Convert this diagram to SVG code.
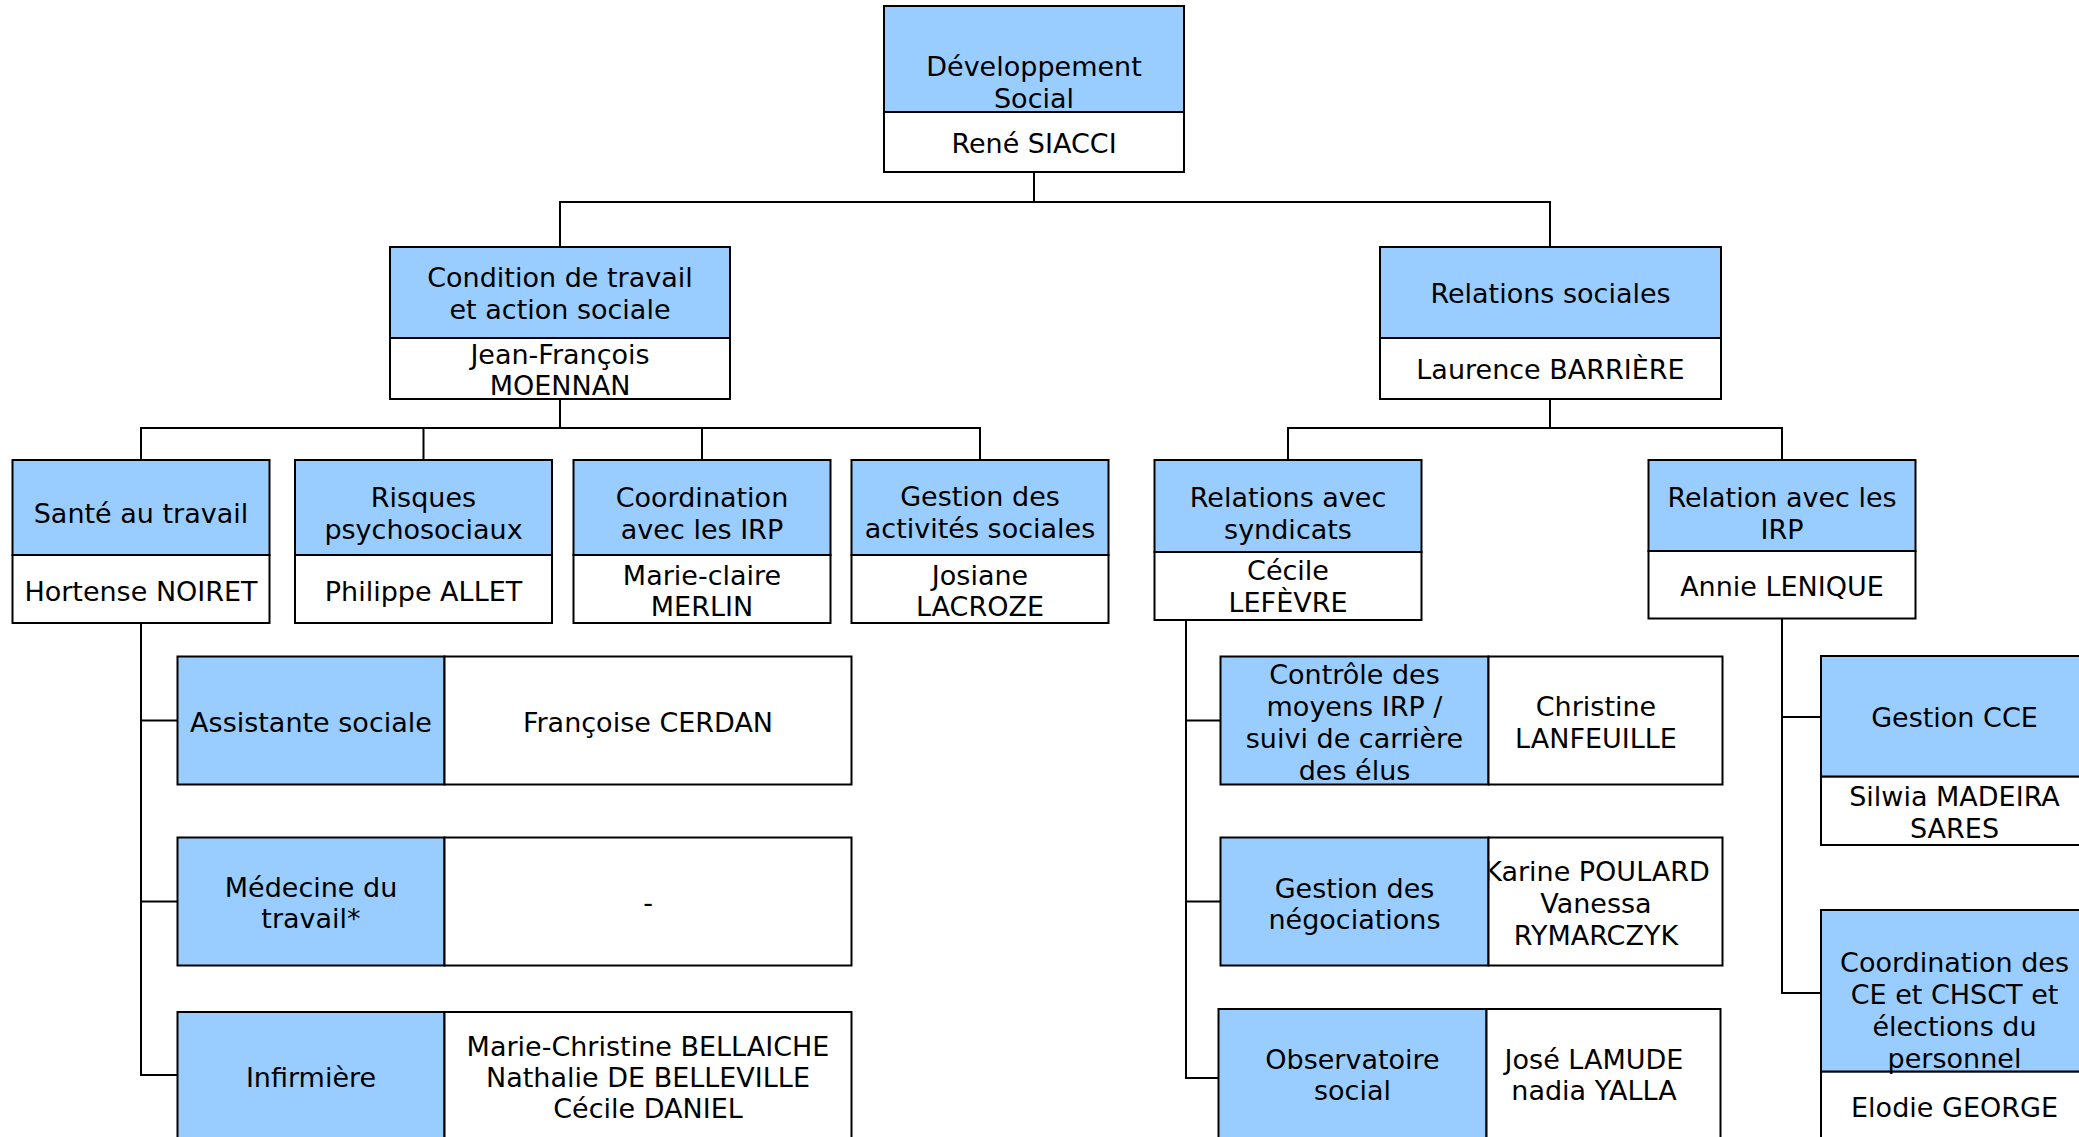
<svg xmlns="http://www.w3.org/2000/svg" width="2079" height="1137" viewBox="0 0 2079 1137">
<style>
.b{fill:#99CCFF;stroke:#000;stroke-width:2}
.w{fill:#fff;stroke:#000;stroke-width:2}
.t{font-family:"DejaVu Sans",Verdana,sans-serif;font-size:27px;text-anchor:middle;fill:#000}
#connectors path{fill:none;stroke:#000;stroke-width:2}
</style>
<defs>
<clipPath id="clipKarine"><rect x="1489.5" y="837.5" width="232" height="128"/></clipPath>
</defs>
<rect width="2079" height="1137" fill="#fff"/>
<g id="connectors">
<path d="M1034,172V202M560,247V202H1550V247"/>
<path d="M560,399V428M141,460V428H980V460M423.5,428V460M702,428V460"/>
<path d="M1550,399V428M1288,460V428H1782V460"/>
<path d="M141,623V1075H177.5M141,720.5H177.5M141,901.5H177.5"/>
<path d="M1186,620V1078H1218.5M1186,720.5H1220.5M1186,901.5H1220.5"/>
<path d="M1782,618V993H1821M1782,717H1821"/>
</g>
<g id="n-root">
<rect class="b" x="884" y="6" width="300" height="106"/>
<rect class="w" x="884" y="112" width="300" height="60"/>
<text class="t" x="1034" y="76">Développement</text>
<text class="t" x="1034" y="107.5">Social</text>
<text class="t" x="1034" y="153">René SIACCI</text>
</g>
<g id="n-condition">
<rect class="b" x="390" y="247" width="340" height="91"/>
<rect class="w" x="390" y="338" width="340" height="61"/>
<text class="t" x="560" y="287">Condition de travail</text>
<text class="t" x="560" y="319">et action sociale</text>
<text class="t" x="560" y="364">Jean-François</text>
<text class="t" x="560" y="395">MOENNAN</text>
</g>
<g id="n-relsoc">
<rect class="b" x="1380" y="247" width="341" height="91"/>
<rect class="w" x="1380" y="338" width="341" height="61"/>
<text class="t" x="1550.5" y="303">Relations sociales</text>
<text class="t" x="1550.5" y="379">Laurence BARRIÈRE</text>
</g>
<g id="n-sante">
<rect class="b" x="12.5" y="460" width="257" height="95"/>
<rect class="w" x="12.5" y="555" width="257" height="68"/>
<text class="t" x="141" y="523.3">Santé au travail</text>
<text class="t" x="141" y="600.5">Hortense NOIRET</text>
</g>
<g id="n-risques">
<rect class="b" x="295" y="460" width="257" height="95"/>
<rect class="w" x="295" y="555" width="257" height="68"/>
<text class="t" x="423.5" y="507">Risques</text>
<text class="t" x="423.5" y="538.5">psychosociaux</text>
<text class="t" x="423.5" y="600.5">Philippe ALLET</text>
</g>
<g id="n-coordirp">
<rect class="b" x="573.5" y="460" width="257" height="95"/>
<rect class="w" x="573.5" y="555" width="257" height="68"/>
<text class="t" x="702" y="507">Coordination</text>
<text class="t" x="702" y="538.5">avec les IRP</text>
<text class="t" x="702" y="585">Marie-claire</text>
<text class="t" x="702" y="616">MERLIN</text>
</g>
<g id="n-gestionas">
<rect class="b" x="851.5" y="460" width="257" height="95"/>
<rect class="w" x="851.5" y="555" width="257" height="68"/>
<text class="t" x="980" y="506">Gestion des</text>
<text class="t" x="980" y="538">activités sociales</text>
<text class="t" x="980" y="585">Josiane</text>
<text class="t" x="980" y="616">LACROZE</text>
</g>
<g id="n-syndicats">
<rect class="b" x="1154.5" y="460" width="267" height="92"/>
<rect class="w" x="1154.5" y="552" width="267" height="68"/>
<text class="t" x="1288" y="507">Relations avec</text>
<text class="t" x="1288" y="538.5">syndicats</text>
<text class="t" x="1288" y="580">Cécile</text>
<text class="t" x="1288" y="612">LEFÈVRE</text>
</g>
<g id="n-irp">
<rect class="b" x="1648.5" y="460" width="267" height="91"/>
<rect class="w" x="1648.5" y="551" width="267" height="67.5"/>
<text class="t" x="1782" y="507">Relation avec les</text>
<text class="t" x="1782" y="538.5">IRP</text>
<text class="t" x="1782" y="596">Annie LENIQUE</text>
</g>
<g id="n-assistante">
<rect class="b" x="177.5" y="656.5" width="267" height="128"/>
<rect class="w" x="444.5" y="656.5" width="407" height="128"/>
<text class="t" x="311" y="732">Assistante sociale</text>
<text class="t" x="648" y="732">Françoise CERDAN</text>
</g>
<g id="n-medecine">
<rect class="b" x="177.5" y="837.5" width="267" height="128"/>
<rect class="w" x="444.5" y="837.5" width="407" height="128"/>
<text class="t" x="311" y="896.5">Médecine du</text>
<text class="t" x="311" y="928">travail*</text>
<text class="t" x="648" y="912">-</text>
</g>
<g id="n-infirmiere">
<rect class="b" x="177.5" y="1012" width="267" height="130"/>
<rect class="w" x="444.5" y="1012" width="407" height="130"/>
<text class="t" x="311" y="1087">Infirmière</text>
<text class="t" x="648" y="1056">Marie-Christine BELLAICHE</text>
<text class="t" x="648" y="1087">Nathalie DE BELLEVILLE</text>
<text class="t" x="648" y="1118">Cécile DANIEL</text>
</g>
<g id="n-controle">
<rect class="b" x="1220.5" y="656.5" width="268" height="128"/>
<rect class="w" x="1488.5" y="656.5" width="234" height="128"/>
<text class="t" x="1354.5" y="684">Contrôle des</text>
<text class="t" x="1354.5" y="716">moyens IRP /</text>
<text class="t" x="1354.5" y="748">suivi de carrière</text>
<text class="t" x="1354.5" y="780">des élus</text>
<text class="t" x="1596" y="716">Christine</text>
<text class="t" x="1596" y="748">LANFEUILLE</text>
</g>
<g id="n-negociations">
<rect class="b" x="1220.5" y="837.5" width="268" height="128"/>
<rect class="w" x="1488.5" y="837.5" width="234" height="128"/>
<text class="t" x="1354.5" y="897.5">Gestion des</text>
<text class="t" x="1354.5" y="928.5">négociations</text>
<text class="t" x="1597" y="881" clip-path="url(#clipKarine)">Karine POULARD</text>
<text class="t" x="1596" y="912.5">Vanessa</text>
<text class="t" x="1596" y="944.5">RYMARCZYK</text>
</g>
<g id="n-observatoire">
<rect class="b" x="1218.5" y="1009" width="268" height="140"/>
<rect class="w" x="1486.5" y="1009" width="234" height="140"/>
<text class="t" x="1352.5" y="1068.5">Observatoire</text>
<text class="t" x="1352.5" y="1100">social</text>
<text class="t" x="1594" y="1068.5">José LAMUDE</text>
<text class="t" x="1594" y="1100">nadia YALLA</text>
</g>
<g id="n-gestioncce">
<rect class="b" x="1821" y="656" width="267" height="120.7"/>
<rect class="w" x="1821" y="776.7" width="267" height="68.3"/>
<text class="t" x="1954.5" y="727.3">Gestion CCE</text>
<text class="t" x="1954.5" y="805.7">Silwia MADEIRA</text>
<text class="t" x="1954.5" y="837.7">SARES</text>
</g>
<g id="n-coordce">
<rect class="b" x="1821" y="910" width="267" height="161.7"/>
<rect class="w" x="1821" y="1071.7" width="267" height="80"/>
<text class="t" x="1954.5" y="971.5">Coordination des</text>
<text class="t" x="1954.5" y="1003.5">CE et CHSCT et</text>
<text class="t" x="1954.5" y="1035.5">élections du</text>
<text class="t" x="1954.5" y="1067.5">personnel</text>
<text class="t" x="1954.5" y="1116.7">Elodie GEORGE</text>
</g>
</svg>
